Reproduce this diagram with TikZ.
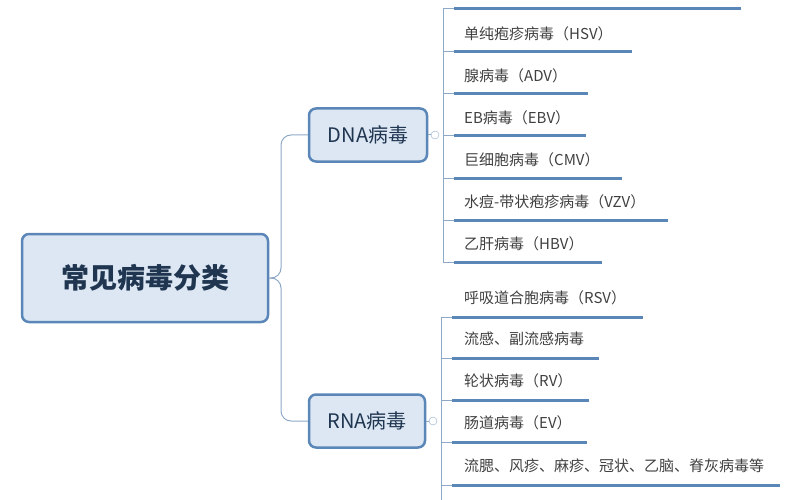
\documentclass[tikz,border=0pt]{standalone}
\usepackage{fontspec}
\setmainfont{Noto Sans CJK SC}
\usetikzlibrary{positioning}
\definecolor{mapblue}{HTML}{5A86B8}
\definecolor{mapfill}{HTML}{DCE7F3}
\definecolor{maptext}{HTML}{1F3550}
\definecolor{mapline}{HTML}{8EA9C8}
\tikzset{
  topic/.style={draw=mapblue, line width=2.5pt, fill=mapfill, rounded corners=7pt, text=maptext},
  leaf/.style={anchor=west, inner sep=0pt, font=\fontsize{15}{15}\selectfont, text=black!75},
  uline/.style={mapblue, line width=3pt},
  branch/.style={mapline, line width=1pt}
}
\begin{document}
\begin{tikzpicture}[x=1pt,y=-1pt]
\useasboundingbox (0,0) rectangle (800,500);

% Tema central
\node[topic, minimum width=246pt, minimum height=88pt, font=\fontsize{28}{28}\selectfont\bfseries] (main) at (145,278) {常见病毒分类};

% Ramas principales
\node[topic, minimum width=118pt, minimum height=53pt, font=\fontsize{20}{20}\selectfont] (dna) at (368,135) {DNA病毒};
\node[topic, minimum width=116pt, minimum height=53pt, font=\fontsize{20}{20}\selectfont] (rna) at (367,421) {RNA病毒};
\draw[branch, rounded corners=10pt] (main.east) -- (281,278) |- (dna.west);
\draw[branch, rounded corners=10pt] (main.east) -- (281,278) |- (rna.west);

% Botones de plegado
\node[draw=mapline, circle, inner sep=0pt, minimum size=8pt] (dnaknob) at (435,135) {};
\node[draw=mapline, circle, inner sep=0pt, minimum size=8pt] (rnaknob) at (433,421) {};
\draw[branch] (dna.east) -- (dnaknob);
\draw[branch] (rna.east) -- (rnaknob);

% Subtemas DNA
\coordinate (dnatop) at (443,9);
\coordinate (dnabot) at (443,262);
\draw[branch] (dnatop) -- (dnabot);
\foreach \y/\xe/\txt [count=\i] in {
  9/741/{},
  52/632/{单纯疱疹病毒（HSV）},
  94/588/{腺病毒（ADV）},
  136/586/{EB病毒（EBV）},
  178/622/{巨细胞病毒（CMV）},
  220/668/{水痘-带状疱疹病毒（VZV）},
  262/602/{乙肝病毒（HBV）}} {
  \coordinate (d\i) at (454,\y);
  \coordinate (de\i) at (\xe,\y);
  \node[leaf] (dt\i) at (464,\y-18) {\txt};
  \draw[branch] (443,\y) -- (d\i);
  \draw[uline] (d\i) -- (de\i);
}

% Subtemas RNA
\coordinate (rnatop) at (441,317);
\coordinate (rnabot) at (441,500);
\draw[branch] (rnatop) -- (rnabot);
\foreach \y/\xe/\txt [count=\i] in {
  317/643/{呼吸道合胞病毒（RSV）},
  358/599/{流感、副流感病毒},
  400/589/{轮状病毒（RV）},
  442/587/{肠道病毒（EV）},
  485/780/{流腮、风疹、麻疹、冠状、乙脑、脊灰病毒等}} {
  \coordinate (r\i) at (452,\y);
  \coordinate (re\i) at (\xe,\y);
  \node[leaf] (rt\i) at (464,\y-19) {\txt};
  \draw[branch] (441,\y) -- (r\i);
  \draw[uline] (r\i) -- (re\i);
}

\end{tikzpicture}
\end{document}
